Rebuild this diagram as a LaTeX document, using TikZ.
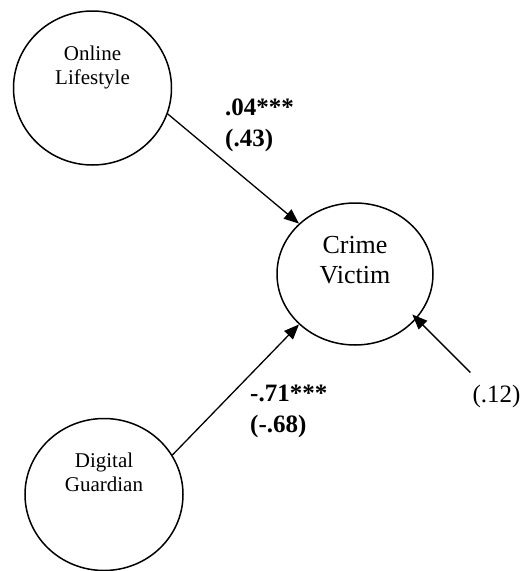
\documentclass[tikz,border=0pt]{standalone}
\usepackage{fontspec}
\setmainfont{Liberation Serif}
\usetikzlibrary{shapes.geometric,arrows.meta}

\begin{document}
\begin{tikzpicture}[x=1pt,y=-1pt,
  latent/.style={ellipse,draw,line width=1.5pt,inner sep=0pt},
  path/.style={-{Triangle[length=15pt,width=12pt]},line width=1.3pt},
  small/.style={align=center,font=\fontsize{21}{24}\selectfont},
  coef/.style={align=left,anchor=north west,inner sep=0pt,font=\fontsize{25}{31}\selectfont\bfseries}]
 \useasboundingbox (0,0) rectangle (522,571);
 %
 \node[latent,minimum width=158pt,minimum height=154pt] (ol) at (92.5,88) {};
 \node[latent,minimum width=156pt,minimum height=142pt] (cv) at (355,274) {};
 \node[latent,minimum width=158pt,minimum height=152pt] (dg) at (104,494.5) {};
 \node[small] (olt) at ([yshift=21pt]ol.center) {Online\\Lifestyle};
 \node[small] (dgt) at ([yshift=22pt]dg.center) {Digital\\Guardian};
 \node[align=center,font=\fontsize{26}{30}\selectfont] (cvt) at ([yshift=14pt]cv.center) {Crime\\Victim};
 \node[font=\fontsize{25}{30}\selectfont,inner sep=3pt] (res) at (496.5,396) {(.12)};
 \coordinate (e) at ([xshift=1pt,yshift=9pt]res.north west);
 %
 \node[coef] (b1) at (225,99) {.04***\\(.43)};
 \node[coef] (b2) at (250,385) {-.71***\\(-.68)};
 %
 \draw[path] (ol.-19.5) -- (cv.138.3);
 \draw[path] (dg.30.8) -- (cv.222.8);
 \draw[path,shorten >=-6pt] (e) -- (cv.-36);
\end{tikzpicture}
\end{document}
